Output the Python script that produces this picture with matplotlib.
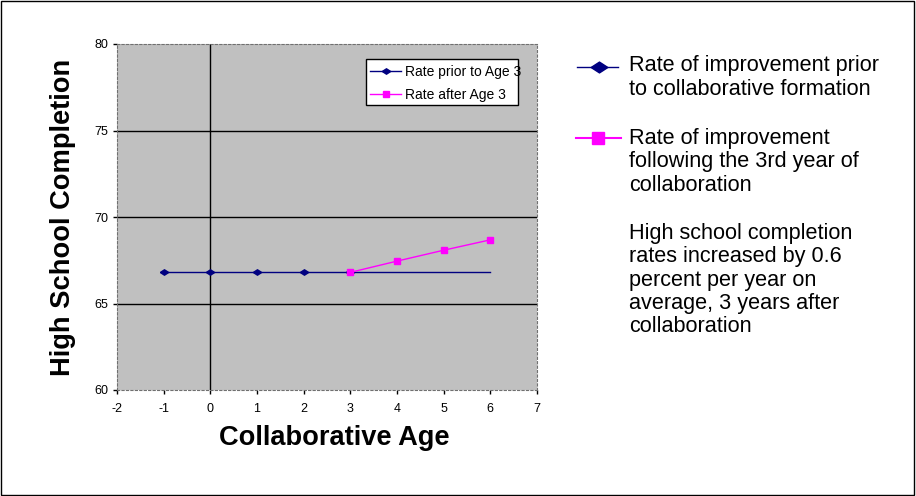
import matplotlib.pyplot as plt
from matplotlib.lines import Line2D
from matplotlib.patches import Rectangle
from matplotlib.path import Path

plt.rcParams['font.family'] = ['Liberation Sans', 'DejaVu Sans']
plt.rcParams['axes.unicode_minus'] = False

# data
prior_age = [-1, 0, 1, 2, 3]
prior_rate = [66.8, 66.8, 66.8, 66.8, 66.8]
prior_trend_age = [3, 6]
prior_trend_rate = [66.8, 66.8]
after_age = [3, 4, 5, 6]
after_rate = [66.8, 67.45, 68.08, 68.68]

navy = '#000080'
pink = '#FF00FF'
# wide diamond like the excel one
diamond = Path([(-1, 0), (0, 0.65), (1, 0), (0, -0.65), (-1, 0)])

W, H = 916, 496
def fx(p):
    return p / W
def fy(p):
    return 1 - p / H

fig = plt.figure(figsize=(9.16, 4.96), dpi=100)
ax = fig.add_axes([fx(117), fy(390), 420 / W, 346 / H])
ax.set_facecolor('#C0C0C0')

# gridlines and the y axis crossing at 0
for yv in [65, 70, 75]:
    ax.axhline(yv, color='black', lw=1, zorder=1)
ax.axvline(0, color='black', lw=1, zorder=1)

l1, = ax.plot(prior_age, prior_rate, color=navy, lw=1, marker=diamond, ms=6,
              label='Rate prior to Age 3', zorder=3)
ax.plot(prior_trend_age, prior_trend_rate, color=navy, lw=1, zorder=3)
l2, = ax.plot(after_age, after_rate, color=pink, lw=1, marker='s', ms=4,
              label='Rate after Age 3', zorder=4)

ax.set_xlim(-2, 7)
ax.set_ylim(60, 80)
ax.set_xticks(range(-2, 8))
ax.set_yticks([60, 65, 70, 75, 80])
ax.tick_params(labelsize=9, length=3, direction='out', width=1)
ax.tick_params(axis='x', pad=6)

for s in ['top', 'right', 'left', 'bottom']:
    ax.spines[s].set_linestyle((0, (2, 2)))
    ax.spines[s].set_color('#707070')

ax.set_xlabel('Collaborative Age', fontsize=19.6, fontweight='bold')
ax.xaxis.set_label_coords(0.517, -0.102)
ax.set_ylabel('High School Completion', fontsize=19.6, fontweight='bold', labelpad=13)

# inner legend, text runs to the edge of its box like the original
fig.add_artist(Rectangle((fx(366), fy(105)), 152 / W, 46 / H, fill=True,
                         facecolor='white', edgecolor='black', lw=1,
                         transform=fig.transFigure, zorder=2))
ax.set_zorder(1)
leg = fig.legend(handles=[l1, l2], loc='upper left', bbox_to_anchor=(fx(367), fy(61.5)),
                 fontsize=10, frameon=False, handlelength=2.2, handletextpad=0.3,
                 borderpad=0.25, labelspacing=0.65, borderaxespad=0)
leg.set_zorder(5)

# right-hand annotation with legend keys
fig.add_artist(Line2D([fx(577), fx(618)], [fy(66.5), fy(66.5)], color=navy, lw=1,
                      transform=fig.transFigure))
fig.add_artist(Line2D([fx(599)], [fy(66.5)], color=navy, marker=diamond, ms=12,
                      transform=fig.transFigure))
fig.add_artist(Line2D([fx(576), fx(621)], [fy(138), fy(138)], color=pink, lw=1.5,
                      transform=fig.transFigure))
fig.add_artist(Line2D([fx(598)], [fy(138)], color=pink, marker='s', ms=8.5,
                      transform=fig.transFigure))

blocks = [
    (66, ['Rate of improvement prior', 'to collaborative formation']),
    (138.3, ['Rate of improvement', 'following the 3rd year of', 'collaboration']),
    (233.3, ['High school completion', 'rates increased by 0.6', 'percent per year on',
             'average, 3 years after', 'collaboration']),
]
for y0, lines in blocks:
    for i, t in enumerate(lines):
        fig.text(fx(629), fy(y0 + i * 23.4), t, fontsize=15.6, va='center', ha='left')

fig.add_artist(Rectangle((0.001, 0.002), 0.997, 0.996, fill=False, edgecolor='black',
                         lw=1, transform=fig.transFigure))

fig.savefig('out.png', dpi=100)
